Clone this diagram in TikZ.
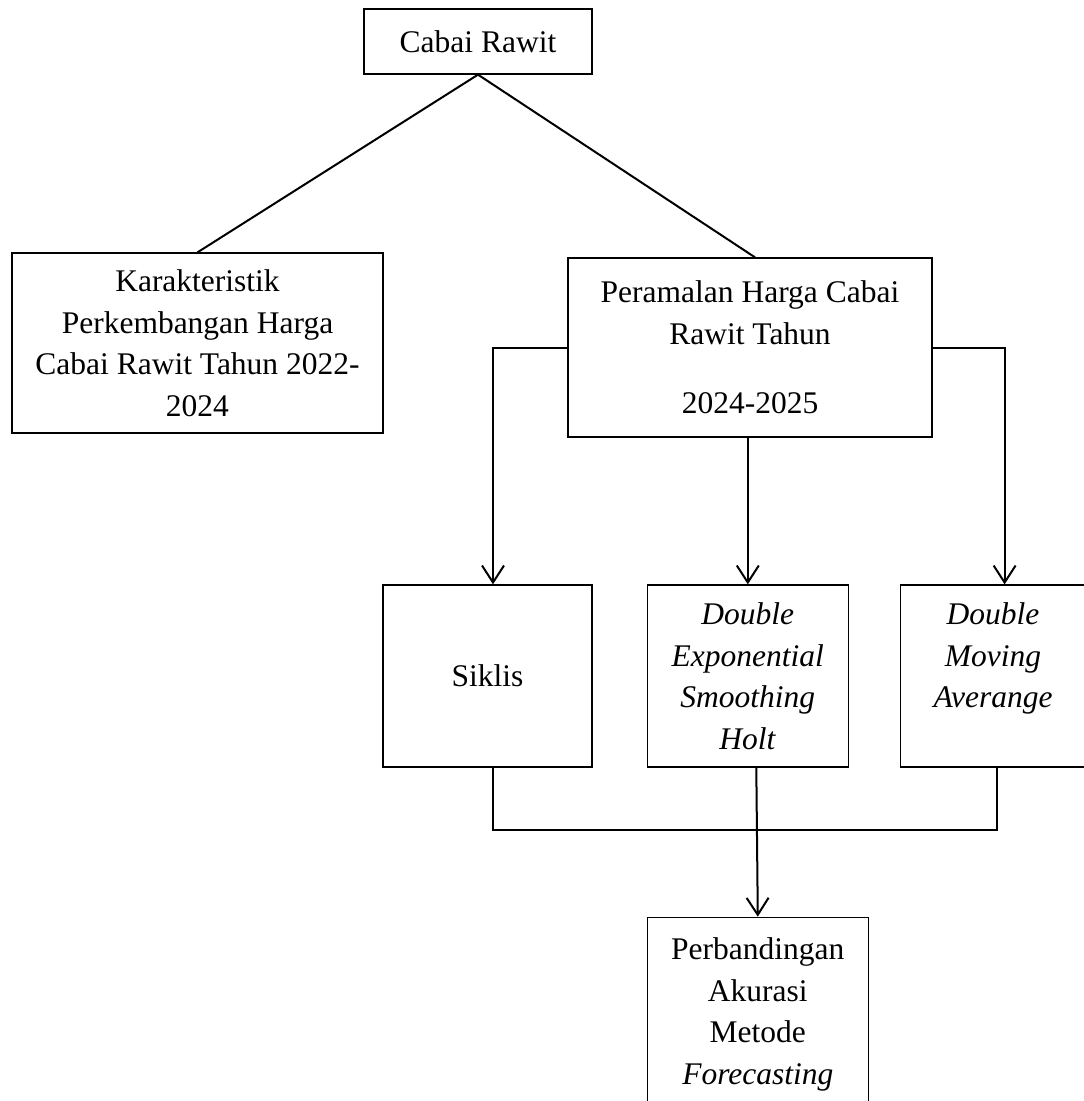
\documentclass[tikz,border=0pt]{standalone}
\usepackage{fontspec}
\setmainfont{Liberation Serif}
\usetikzlibrary{positioning,arrows.meta}
\tikzstyle{object}=[rectangle, draw=black, line width=1.3pt, inner sep=0pt,
        text centered, align=center, font=\fontsize{31.5}{41.5}\selectfont]
\tikzstyle{link}=[line width=2pt]
\tikzstyle{arrow}=[link, -{Straight Barb[length=17pt,width=22pt]}]

\begin{document}
\begin{tikzpicture}[x=1pt, y=-1pt]
        \useasboundingbox (0,0) rectangle (1084,1101);
        \node (Cabai) [object, minimum width=228pt, minimum height=65pt] at (478,41.5)
        {Cabai Rawit};
        \node (Karakteristik) [object, minimum width=371pt, minimum height=180pt] at (197.5,343)
        {
          Karakteristik\\ Perkembangan Harga\\ Cabai Rawit Tahun 2022-\\ 2024
        };
        \node (Peramalan) [object, minimum width=364pt, minimum height=179pt] at (750,347.5)
        {
          Peramalan Harga Cabai\\ Rawit Tahun\\[28pt] 2024-2025
        };
        \node (Siklis) [object, minimum width=209pt, minimum height=182pt] at (487.5,676)
        {Siklis};
        \node (Holt) [object, minimum width=201pt, minimum height=182pt, right=54pt of Siklis]
        {
          \textit{Double}\\ \textit{Exponential}\\ \textit{Smoothing}\\ \textit{Holt}
        };
        \node (Moving) [object, minimum width=185pt, minimum height=182pt, right=51pt of Holt]
        {
          \textit{Double}\\ \textit{Moving}\\ \textit{Averange}\\ \mbox{}
        };
        \node (Perbandingan) [object, minimum width=221pt, minimum height=194pt,
          below=149pt of Holt, xshift=10pt]
        {
          Perbandingan\\ Akurasi\\ Metode\\ \textit{Forecasting}
        };
        \coordinate (Join) at (755,830);

        \draw[link] (Cabai.south) -- (Karakteristik.north);
        \draw[link] (Cabai.south) -- ([xshift=5pt]Peramalan.north);
        \draw[arrow] (Peramalan.west) -| ([xshift=5.5pt]Siklis.north);
        \draw[arrow] (Peramalan.south -| Holt.north) -- (Holt.north);
        \draw[arrow] (Peramalan.east) -| ([xshift=11.5pt]Moving.north);
        \draw[link] ([xshift=5.5pt]Siklis.south) |- (Join) -| ([xshift=3.5pt]Moving.south);
        \draw[arrow] ([xshift=8.5pt]Holt.south) -- (Perbandingan.north);
      \end{tikzpicture}
\end{document}
